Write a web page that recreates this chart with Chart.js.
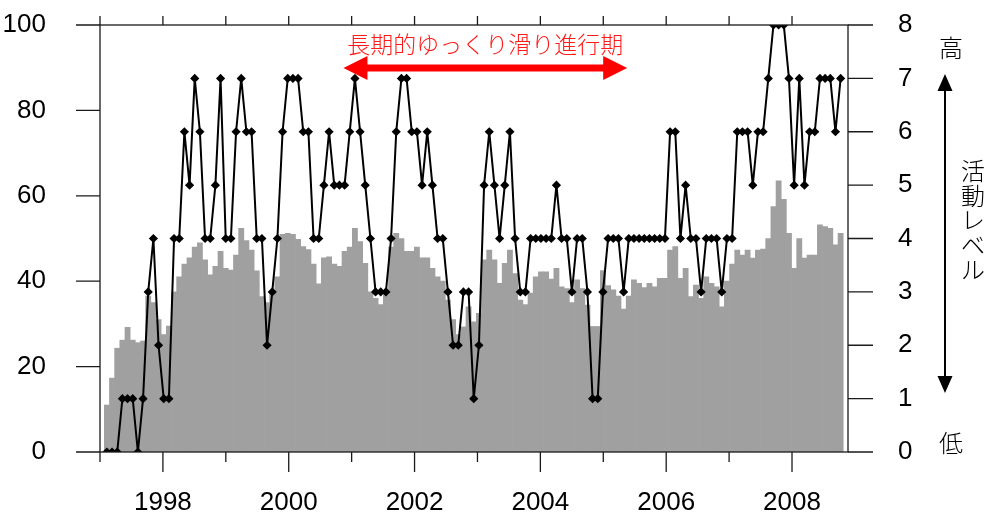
<!DOCTYPE html>
<html>
<head>
<meta charset="utf-8">
<script src="https://cdn.jsdelivr.net/npm/chart.js@4.4.1/dist/chart.umd.min.js"></script>
<style>
html,body{margin:0;padding:0;background:#fff;}
#wrap{width:989px;height:522px;position:relative;}
</style>
</head>
<body>
<div id="wrap"><canvas id="c" width="989" height="522"></canvas></div>
<script>
// --- data ---
// one sample every 30 days, first one 40 days into 1997
const firstDay = 40;
const stepDays = 30;

// gray bars, left axis (0-100)
const barValues = [
  11, 17.3, 24.3, 26.2, 29.2, 26.2, 25.6, 26, 36.5, 35,
  31, 27.5, 29.5, 37.5, 41, 44, 45.5, 48, 49, 45,
  41.5, 43.5, 47, 43, 42.6, 46.1, 52.4, 49.5, 47.3, 42.4,
  36.4, 35, 37.5, 41, 51, 51.2, 51, 49.8, 48.1, 47.4,
  44, 39.4, 45.5, 45.7, 44, 43.5, 47, 48, 52.4, 49.3,
  44.2, 37.5, 36, 34.5, 37, 48, 51.2, 50, 47, 47,
  48, 45.5, 45.5, 43, 41, 40, 35.6, 31, 27.5, 29.3,
  34, 30.5, 32.5, 45, 47.3, 45, 39.5, 44.2, 47.3, 41.8,
  35.6, 34.5, 37.2, 41, 42.2, 42.2, 40.5, 43, 38.7, 38.3,
  35, 40.3, 38.3, 34.4, 29.4, 29.4, 42.5, 39, 38, 36.5,
  33.5, 36.5, 40.3, 39.5, 38.5, 39.5, 38.7, 40.7, 40.7, 47.3,
  48.1, 40.7, 43, 36.4, 39.1, 36, 41, 39.5, 38.7, 34,
  40, 44, 47.3, 46.1, 47.3, 45.4, 47.3, 47.5, 50, 57.5,
  63.5, 59.2, 51.2, 43, 50, 45.4, 46.1, 46.1, 53.2, 52.8,
  52.4, 48.5, 51.2
];

// activity level, right axis (0-8)
const levelValues = [
  0,0,0,1,1,1,0,1,3,4, 2,1,1,4,4,6,5,7,6,4, 4,5,7,
  4,4,6,7,6,6,4,4,2,3, 4,6,7,7,7,6,6,4,4,5, 6,5,5,5,6,
  7,6,5,4,3,3,3,4,6,7, 7,6,6,5,6,5,4,4,3,2, 2,3,3,
  1,2,5,6,5,4,5,6,4,3, 3,4,4,4,4,4,5,4,4,3, 4,4,3,1,1,
  3,4,4,4,3,4,4,4,4,4, 4,4,4,6,6,4,5,4,4,3, 4,4,4,3,4,4,6,6,6,5,
  6,6,7,8,8,8,7,5,7,5, 6,6,7,7,7,6,7
];

const leftTicks = [0, 20, 40, 60, 80, 100];
const rightTicks = [0, 1, 2, 3, 4, 5, 6, 7, 8];
const yearTicks = [1997, 1998, 1999, 2000, 2001, 2002, 2003, 2004, 2005, 2006, 2007, 2008];
const yearLabels = [1998, 2000, 2002, 2004, 2006, 2008];
const periodStart = 2000.87, periodEnd = 2005.38;   // red arrow span
const periodLabel = '長期的ゆっくり滑り進行期';
const sideLabel = ['活', '動', 'レ', 'ベ', 'ル'];

const times = barValues.map((_, i) => 1997 + (firstDay + stepDays * i) / 365.25);
const bars = barValues.map((v, i) => ({x: times[i], y: v}));
const levels = levelValues.map((v, i) => ({x: times[i], y: v}));

const FONT = '"Liberation Sans", Arial, sans-serif';
const JP = '"Noto Sans CJK JP", sans-serif';

// box, tick marks on all four sides
const frame = {
  id: 'frame',
  afterDatasetsDraw(chart) {
    const {ctx, chartArea: a, scales} = chart;
    ctx.save();
    ctx.strokeStyle = '#1a1a1a';
    ctx.lineWidth = 1.3;
    ctx.strokeRect(a.left, a.top, a.right - a.left, a.bottom - a.top);
    ctx.beginPath();
    leftTicks.forEach(v => {
      const y = scales.y.getPixelForValue(v);
      ctx.moveTo(a.left - 24, y); ctx.lineTo(a.left, y);
    });
    rightTicks.forEach(v => {
      const y = scales.y2.getPixelForValue(v);
      ctx.moveTo(a.right, y); ctx.lineTo(a.right + 25, y);
    });
    yearTicks.forEach(yr => {
      const x = scales.x.getPixelForValue(yr);
      ctx.moveTo(x, a.bottom); ctx.lineTo(x, a.bottom + (yr % 2 === 0 ? 20 : 10));
      ctx.moveTo(x, a.top); ctx.lineTo(x, a.top - 9);
    });
    ctx.stroke();
    ctx.restore();
  }
};

// red period arrow + right-hand level legend
const notes = {
  id: 'notes',
  afterDraw(chart) {
    const {ctx, chartArea: a, scales} = chart;
    ctx.save();
    // red double arrow
    const x1 = scales.x.getPixelForValue(periodStart);
    const x2 = scales.x.getPixelForValue(periodEnd);
    const ya = a.top + 43;
    ctx.fillStyle = '#ff0000';
    ctx.fillRect(x1 + 20, ya - 3.5, x2 - x1 - 40, 7);
    ctx.beginPath();
    ctx.moveTo(x1, ya); ctx.lineTo(x1 + 24, ya - 12); ctx.lineTo(x1 + 24, ya + 12); ctx.closePath();
    ctx.moveTo(x2, ya); ctx.lineTo(x2 - 24, ya - 12); ctx.lineTo(x2 - 24, ya + 12); ctx.closePath();
    ctx.fill();
    ctx.fillStyle = '#ff1a1a';
    ctx.font = '300 23px ' + JP;
    ctx.textAlign = 'center';
    ctx.textBaseline = 'middle';
    ctx.fillText(periodLabel, (x1 + x2) / 2, a.top + 19);

    // black vertical arrow on the right
    const xr = 945;
    const yTop = 74, yBot = 393;
    ctx.fillStyle = '#000';
    ctx.strokeStyle = '#000';
    ctx.lineWidth = 2;
    ctx.beginPath();
    ctx.moveTo(xr, yTop + 10); ctx.lineTo(xr, yBot - 10);
    ctx.stroke();
    ctx.beginPath();
    ctx.moveTo(xr, yTop); ctx.lineTo(xr - 7.5, yTop + 17); ctx.lineTo(xr + 7.5, yTop + 17); ctx.closePath();
    ctx.moveTo(xr, yBot); ctx.lineTo(xr - 7.5, yBot - 17); ctx.lineTo(xr + 7.5, yBot - 17); ctx.closePath();
    ctx.fill();

    ctx.font = '300 24px ' + JP;
    ctx.fillText('高', 951, 48);
    ctx.fillText('低', 951, 443);
    sideLabel.forEach((ch, i) => ctx.fillText(ch, 973, 171 + i * 24.6));
    ctx.restore();
  }
};

new Chart(document.getElementById('c'), {
  type: 'bar',
  data: {
    datasets: [
      {
        type: 'line',
        data: levels,
        yAxisID: 'y2',
        order: 0,
        borderColor: '#000',
        borderWidth: 2,
        pointStyle: 'rectRot',
        pointRadius: 4.6,
        pointBackgroundColor: '#000',
        pointBorderColor: '#000',
        pointBorderWidth: 0,
        tension: 0,
        clip: 0
      },
      {
        type: 'bar',
        data: bars,
        yAxisID: 'y',
        order: 1,
        backgroundColor: '#a0a0a0',
        borderWidth: 0,
        barPercentage: 1,
        categoryPercentage: 1
      }
    ]
  },
  options: {
    responsive: false,
    devicePixelRatio: 1,
    animation: false,
    layout: {padding: {top: 25, left: 0, right: 0, bottom: 0}},
    plugins: {legend: {display: false}, tooltip: {enabled: false}},
    scales: {
      x: {
        type: 'linear',
        min: 1997,
        max: 2008.89,
        offset: false,
        grid: {display: false},
        border: {display: false},
        ticks: {
          stepSize: 1,
          autoSkip: false,
          includeBounds: false,
          maxRotation: 0,
          padding: 27,
          color: '#000',
          font: {family: FONT, size: 26},
          callback: v => yearLabels.includes(v) ? String(v) : ''
        },
        afterFit: s => { s.height = 70; s.paddingLeft = 0; s.paddingRight = 0; }
      },
      y: {
        position: 'left',
        min: 0,
        max: 100,
        grid: {display: false},
        border: {display: false},
        ticks: {
          stepSize: 20,
          padding: 46,
          color: '#000',
          font: {family: FONT, size: 26}
        },
        afterFit: s => { s.width = 100; s.paddingTop = 0; s.paddingBottom = 0; }
      },
      y2: {
        position: 'right',
        min: 0,
        max: 8,
        grid: {display: false},
        border: {display: false},
        ticks: {
          stepSize: 1,
          padding: 42,
          color: '#000',
          font: {family: FONT, size: 26}
        },
        afterFit: s => { s.width = 141; s.paddingTop = 0; s.paddingBottom = 0; }
      }
    }
  },
  plugins: [frame, notes]
});
</script>
</body>
</html>
